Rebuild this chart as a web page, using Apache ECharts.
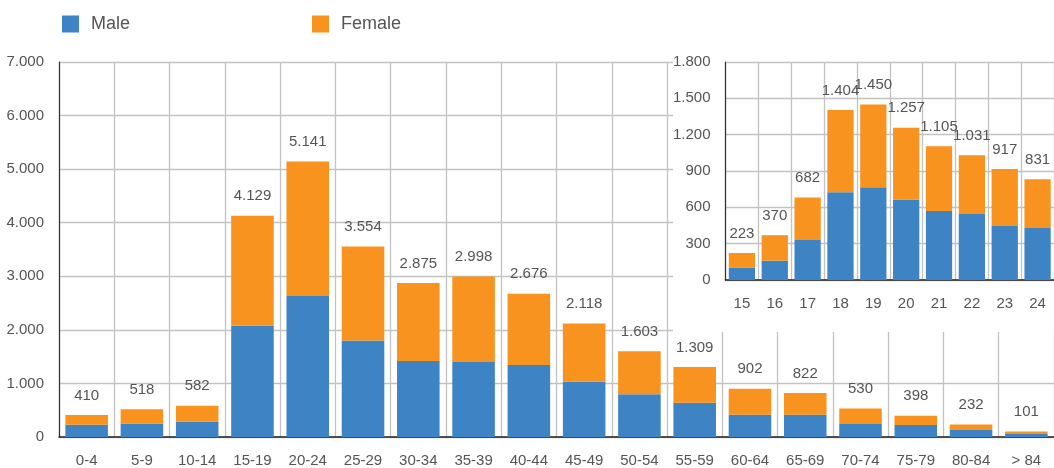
<!DOCTYPE html>
<html>
<head>
<meta charset="utf-8">
<title>Male / Female by age</title>
<script src="https://cdn.jsdelivr.net/npm/echarts@6/dist/echarts.min.js"></script>
<style>
  html, body { margin: 0; padding: 0; background: #ffffff; }
  #chart { width: 1054px; height: 468px; }
</style>
</head>
<body>
<div id="chart"></div>
<script>
  // age groups (main chart)
  const ageGroups = ['0-4', '5-9', '10-14', '15-19', '20-24', '25-29', '30-34', '35-39', '40-44',
    '45-49', '50-54', '55-59', '60-64', '65-69', '70-74', '75-79', '80-84', '> 84'];
  const groupTotals = [410, 518, 582, 4129, 5141, 3554, 2875, 2998, 2676, 2118, 1603, 1309, 902, 822, 530, 398, 232, 101];
  const groupMale = [230, 250, 285, 2075, 2630, 1800, 1420, 1400, 1345, 1030, 800, 640, 415, 415, 245, 225, 130, 55];

  // single ages 15-24 (inset)
  const ages = ['15', '16', '17', '18', '19', '20', '21', '22', '23', '24'];
  const ageTotals = [223, 370, 682, 1404, 1450, 1257, 1105, 1031, 917, 831];
  const ageMale = [100, 160, 330, 725, 765, 665, 570, 545, 445, 430];

  const groupFemale = groupTotals.map((t, i) => t - groupMale[i]);
  const ageFemale = ageTotals.map((t, i) => t - ageMale[i]);

  const MALE = '#3e84c5';
  const FEMALE = '#f7931e';
  const FONT = "'Liberation Sans', Arial, sans-serif";
  const TEXT = '#555555';

  // 7000 -> 7.000
  function fmt(v) {
    return String(v).replace(/\B(?=(\d{3})+(?!\d))/g, '.');
  }

  function catAxis(gridIndex, data) {
    return {
      type: 'category',
      gridIndex: gridIndex,
      data: data,
      z: gridIndex ? 5 : 0,
      axisLine: { lineStyle: { color: '#222', width: 1.5 } },
      axisTick: { show: false },
      axisLabel: { color: TEXT, fontFamily: FONT, fontSize: 15, margin: 16, interval: 0 },
      splitLine: { show: true, interval: 0, lineStyle: { color: '#c2c2c2', width: 1.3 } }
    };
  }

  function valAxis(gridIndex, max, interval) {
    return {
      type: 'value',
      gridIndex: gridIndex,
      min: 0,
      max: max,
      interval: interval,
      z: gridIndex ? 5 : 0,
      axisLine: { show: true, lineStyle: { color: '#333', width: 1.2 } },
      axisTick: { show: false },
      axisLabel: { color: TEXT, fontFamily: FONT, fontSize: 15, margin: 15, formatter: fmt },
      splitLine: { show: true, lineStyle: { color: '#c2c2c2', width: 1.3 } }
    };
  }

  function totalLabel(totals) {
    return {
      show: true,
      position: 'top',
      distance: 12,
      color: TEXT,
      fontFamily: FONT,
      fontSize: 15,
      formatter: p => fmt(totals[p.dataIndex])
    };
  }

  const chart = echarts.init(document.getElementById('chart'));

  chart.setOption({
    animation: false,
    legend: [
      {
        left: 57, top: 10, icon: 'rect', itemWidth: 17, itemHeight: 17,
        data: ['Male'],
        textStyle: { color: TEXT, fontFamily: FONT, fontSize: 18, padding: [0, 0, 0, 7] }
      },
      {
        left: 307, top: 10, icon: 'rect', itemWidth: 17, itemHeight: 17,
        data: ['Female'],
        textStyle: { color: TEXT, fontFamily: FONT, fontSize: 18, padding: [0, 0, 0, 7] }
      }
    ],
    // white box behind the inset so main grid lines don't show through
    graphic: [{
      type: 'rect',
      z: 1,
      shape: { x: 673, y: 0, width: 400, height: 332 },
      style: { fill: '#ffffff' }
    }],
    grid: [
      { left: 59, top: 62, right: -8, bottom: 31 },
      { left: 725.5, top: 62, right: -8, bottom: 188 }
    ],
    xAxis: [catAxis(0, ageGroups), catAxis(1, ages)],
    yAxis: [valAxis(0, 7000, 1000), valAxis(1, 1800, 300)],
    series: [
      {
        name: 'Male', type: 'bar', stack: 'main', barCategoryGap: '23%',
        xAxisIndex: 0, yAxisIndex: 0,
        itemStyle: { color: MALE },
        data: groupMale
      },
      {
        name: 'Female', type: 'bar', stack: 'main', barCategoryGap: '23%',
        xAxisIndex: 0, yAxisIndex: 0,
        itemStyle: { color: FEMALE },
        label: totalLabel(groupTotals),
        data: groupFemale
      },
      {
        name: 'Male', type: 'bar', stack: 'inset', barCategoryGap: '20%', z: 6,
        xAxisIndex: 1, yAxisIndex: 1,
        itemStyle: { color: MALE },
        data: ageMale
      },
      {
        name: 'Female', type: 'bar', stack: 'inset', barCategoryGap: '20%', z: 6,
        xAxisIndex: 1, yAxisIndex: 1,
        itemStyle: { color: FEMALE },
        label: totalLabel(ageTotals),
        data: ageFemale
      }
    ]
  });
</script>
</body>
</html>
